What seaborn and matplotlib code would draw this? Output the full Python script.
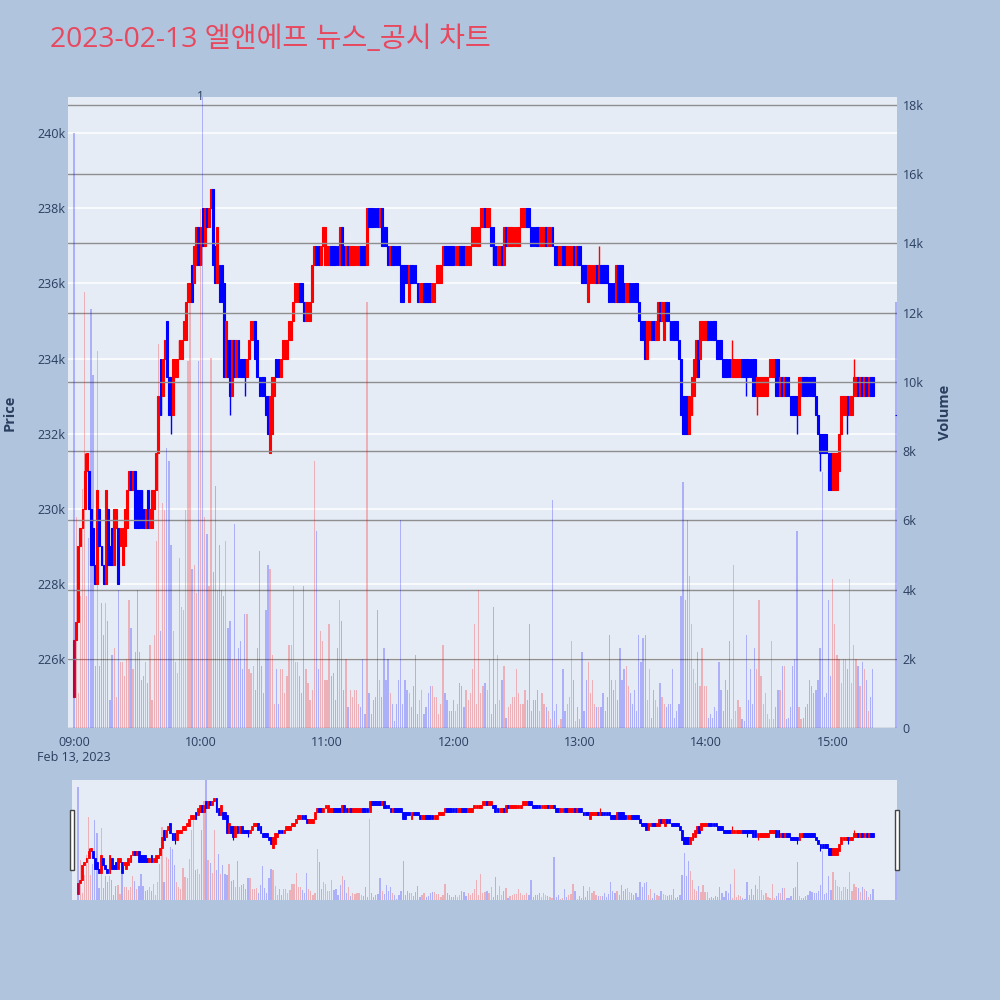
import numpy as np
import pandas as pd
import matplotlib
matplotlib.use("Agg")
import matplotlib.pyplot as plt
import matplotlib.transforms as mtransforms
from matplotlib.patches import Rectangle
from matplotlib.ticker import FuncFormatter, FixedLocator
import seaborn as sns

# ---------------- data (prices in thousand KRW, volume in thousand shares) ----------------
title = "2023-02-13 엘앤에프 뉴스_공시 차트"
hour_labels = ["09:00\nFeb 13, 2023", "10:00", "11:00", "12:00", "13:00", "14:00", "15:00"]

open_09 = [225.0, 226.5, 227.0, 229.0, 229.5, 230.0, 231.0, 231.0, 230.0, 229.5,
           228.5, 228.0, 230.0, 229.0, 228.5, 228.0, 230.0, 229.0, 229.5, 228.5,
           229.5, 229.5, 229.0, 228.5, 229.0, 229.5, 230.5, 231.0, 230.5, 231.0,
           230.5, 230.5, 230.5, 230.0, 229.5, 230.5, 229.5, 229.5, 230.0, 230.5,
           231.5, 234.0, 233.0, 234.0, 235.0, 233.5, 233.5, 232.5, 233.5, 233.5,
           234.0, 234.0, 234.5, 234.5, 235.5, 235.5, 236.5, 236.0, 236.5, 237.5]
close_09 = [226.5, 227.0, 229.0, 229.5, 230.0, 231.0, 231.5, 230.0, 228.5, 228.5,
            228.0, 230.5, 229.0, 228.5, 228.0, 230.5, 228.5, 228.5, 228.5, 230.0,
            230.0, 228.0, 229.5, 229.5, 230.0, 230.5, 231.0, 230.5, 231.0, 229.5,
            229.5, 229.5, 229.5, 229.5, 230.0, 229.5, 230.0, 230.5, 230.5, 231.5,
            233.0, 232.5, 234.0, 234.5, 233.5, 232.5, 232.5, 234.0, 234.0, 234.0,
            234.5, 234.5, 235.0, 235.5, 236.0, 236.0, 235.5, 237.0, 237.5, 236.5]

open_10 = [236.5, 238.0, 237.0, 238.0, 237.5, 238.0, 238.5, 237.0, 236.0, 236.5,
           236.5, 236.0, 233.5, 234.5, 234.5, 233.0, 234.5, 233.5, 234.5, 234.0,
           234.0, 234.0, 233.5, 234.0, 234.5, 234.5, 235.0, 234.5, 233.5, 233.5,
           233.5, 233.0, 233.0, 231.5, 232.0, 233.0, 234.0, 234.0, 233.5, 234.0,
           234.0, 234.0, 234.5, 234.5, 235.0, 235.5, 235.5, 236.0, 236.0, 235.5,
           235.0, 235.0, 235.0, 235.5, 236.5, 237.0, 237.0, 236.5, 237.0, 236.5]
close_10 = [237.5, 237.0, 238.0, 237.5, 238.0, 238.5, 236.5, 236.0, 237.5, 235.5,
            235.5, 233.5, 235.0, 233.5, 233.0, 234.5, 233.5, 234.5, 233.5, 233.5,
            233.5, 233.5, 234.0, 234.5, 235.0, 235.0, 234.0, 233.5, 233.0, 233.0,
            233.0, 232.5, 232.0, 233.0, 233.5, 233.5, 233.5, 233.5, 234.0, 234.5,
            234.5, 234.5, 235.0, 235.0, 235.5, 236.0, 236.0, 235.5, 235.5, 235.0,
            235.5, 235.5, 235.5, 236.5, 237.0, 236.5, 236.5, 237.0, 237.5, 237.5]

open_11 = [236.5, 236.5, 237.0, 237.0, 237.0, 237.0, 236.5, 237.5, 237.0, 236.5,
           237.0, 236.5, 236.5, 236.5, 236.5, 236.5, 237.0, 237.0, 237.0, 236.5,
           238.0, 238.0, 238.0, 238.0, 238.0, 237.5, 238.0, 237.5, 237.5, 237.0,
           236.5, 237.0, 237.0, 237.0, 237.0, 236.5, 236.5, 236.5, 236.5, 235.5,
           236.5, 236.5, 236.5, 236.0, 235.5, 235.5, 236.0, 236.0, 236.0, 236.0,
           235.5, 235.5, 236.0, 236.0, 236.0, 236.5, 237.0, 237.0, 237.0, 237.0]
close_11 = [237.0, 237.0, 236.5, 236.5, 236.5, 236.5, 237.5, 236.5, 236.5, 237.0,
            236.5, 237.0, 237.0, 237.0, 237.0, 237.0, 236.5, 236.5, 236.5, 238.0,
            237.5, 237.5, 237.5, 237.5, 237.5, 238.0, 237.0, 237.0, 237.0, 236.5,
            237.0, 236.5, 236.5, 236.5, 236.5, 235.5, 235.5, 236.0, 236.0, 236.5,
            236.0, 236.0, 236.0, 235.5, 236.0, 236.0, 235.5, 235.5, 235.5, 235.5,
            236.0, 236.0, 236.5, 236.5, 236.5, 237.0, 236.5, 236.5, 236.5, 236.5]

open_12 = [237.0, 236.5, 236.5, 237.0, 237.0, 237.0, 236.5, 236.5, 236.5, 237.0,
           237.0, 237.0, 237.0, 237.5, 237.5, 238.0, 237.5, 237.5, 237.5, 237.5,
           237.0, 236.5, 236.5, 237.0, 236.5, 237.5, 237.0, 237.0, 237.0, 237.0,
           237.0, 237.0, 237.5, 237.5, 237.5, 238.0, 238.0, 237.5, 237.5, 237.5,
           237.5, 237.0, 237.0, 237.0, 237.5, 237.0, 237.0, 237.5, 237.0, 237.0,
           236.5, 236.5, 237.0, 237.0, 236.5, 236.5, 236.5, 237.0, 236.5, 237.0]
close_12 = [236.5, 237.0, 237.0, 236.5, 236.5, 236.5, 237.0, 237.0, 237.0, 237.5,
            237.5, 237.5, 237.5, 238.0, 238.0, 237.5, 238.0, 238.0, 237.0, 236.5,
            236.5, 237.0, 237.0, 236.5, 237.5, 237.0, 237.5, 237.5, 237.5, 237.5,
            237.5, 237.5, 238.0, 238.0, 238.0, 237.5, 237.5, 237.0, 237.0, 237.0,
            237.0, 237.5, 237.5, 237.5, 237.0, 237.5, 237.5, 237.0, 236.5, 236.5,
            237.0, 237.0, 236.5, 236.5, 237.0, 237.0, 237.0, 236.5, 237.0, 236.5]

open_13 = [237.0, 236.5, 236.5, 236.5, 235.5, 236.0, 236.0, 236.0, 236.5, 236.0,
           236.5, 236.5, 236.5, 236.5, 236.0, 236.0, 236.0, 235.5, 236.5, 236.5,
           236.5, 236.0, 235.5, 235.5, 236.0, 236.0, 236.0, 236.0, 235.5, 235.0,
           235.0, 235.0, 234.0, 234.5, 235.0, 235.0, 234.5, 234.5, 235.5, 235.0,
           234.5, 235.5, 235.5, 235.0, 235.0, 235.0, 235.0, 234.5, 234.0, 233.0,
           233.0, 233.0, 232.0, 232.5, 233.0, 233.5, 234.5, 234.0, 234.5, 234.5]
close_13 = [236.5, 236.0, 236.0, 236.0, 236.5, 236.5, 236.5, 236.5, 236.0, 236.5,
            236.0, 236.0, 236.0, 236.0, 235.5, 235.5, 235.5, 236.5, 235.5, 235.5,
            235.5, 235.5, 236.0, 236.0, 235.5, 235.5, 235.5, 235.5, 235.0, 234.5,
            234.5, 234.0, 235.0, 235.0, 234.5, 234.5, 235.0, 235.5, 235.0, 235.5,
            235.5, 235.0, 235.0, 234.5, 234.5, 234.5, 234.5, 234.0, 232.5, 232.0,
            232.0, 232.0, 233.0, 233.5, 234.0, 234.5, 233.5, 235.0, 235.0, 235.0]

open_14 = [234.5, 235.0, 235.0, 235.0, 235.0, 234.5, 234.5, 234.5, 234.0, 234.0,
           234.0, 234.0, 233.5, 233.5, 233.5, 233.5, 233.5, 234.0, 234.0, 234.0,
           234.0, 234.0, 234.0, 234.0, 233.0, 233.0, 233.0, 233.0, 233.0, 233.0,
           233.5, 233.5, 233.5, 234.0, 234.0, 233.0, 233.5, 233.0, 233.5, 233.5,
           233.0, 233.0, 233.0, 233.0, 232.5, 233.0, 233.5, 233.5, 233.5, 233.5,
           233.5, 233.5, 233.0, 232.5, 232.0, 232.0, 232.0, 232.0, 231.5, 231.5]
close_14 = [235.0, 234.5, 234.5, 234.5, 234.5, 234.0, 234.0, 234.0, 233.5, 233.5,
            233.5, 233.5, 234.0, 234.0, 234.0, 234.0, 234.0, 233.5, 233.5, 233.5,
            233.5, 233.5, 233.0, 233.0, 233.5, 233.5, 233.5, 233.5, 233.5, 233.5,
            234.0, 234.0, 234.0, 233.0, 233.0, 233.5, 233.0, 233.5, 233.0, 233.0,
            232.5, 232.5, 232.5, 232.5, 233.5, 233.5, 233.0, 233.0, 233.0, 233.0,
            233.0, 233.0, 232.5, 232.0, 231.5, 231.5, 231.5, 231.5, 230.5, 230.5]

# 15:00-15:19 continuous trading, then the 15:30 closing auction
open_15 = [230.5, 230.5, 230.5, 231.0, 232.0, 232.5, 232.5, 233.0, 232.5, 232.5,
           233.0, 233.0, 233.5, 233.0, 233.5, 233.0, 233.5, 233.0, 233.5, 233.5, 232.5]
close_15 = [231.5, 231.5, 231.5, 232.0, 233.0, 233.0, 233.0, 232.5, 233.0, 233.0,
            233.5, 233.5, 233.0, 233.5, 233.0, 233.5, 233.0, 233.5, 233.0, 233.0, 232.5]

# extra wicks (minute index since 09:00 -> price)
wick_high_min = [5, 249, 312, 370]
wick_high_val = [231.5, 237.0, 234.5, 234.0]
wick_low_min = [46, 74, 81, 319, 324, 343, 354, 367]
wick_low_val = [232.0, 232.5, 233.0, 233.0, 232.5, 232.0, 231.0, 232.0]

vol_09 = [17.2, 6.1, 1.0, 3.8, 6.9, 12.6, 3.8, 5.5, 12.1, 10.2,
          1.8, 10.9, 1.8, 3.6, 2.7, 3.6, 3.1, 0.8, 2.1, 2.3,
          0.9, 4.0, 1.9, 1.9, 1.5, 2.0, 3.7, 2.9, 1.7, 2.2,
          4.0, 2.2, 1.4, 1.5, 1.9, 1.3, 2.4, 0.8, 2.7, 5.4,
          11.1, 2.8, 6.5, 6.3, 8.1, 7.7, 5.3, 2.8, 1.9, 1.6,
          4.9, 3.5, 3.4, 6.3, 10.6, 12.8, 4.6, 4.7, 3.9, 10.6]
vol_10 = [15.0, 18.5, 6.1, 5.6, 4.1, 10.7, 4.5, 7.0, 4.0, 5.3,
          4.0, 3.8, 5.4, 2.9, 3.1, 2.0, 5.9, 2.0, 2.3, 2.5,
          1.7, 3.3, 3.3, 1.7, 1.6, 1.8, 1.1, 2.3, 5.1, 1.8,
          1.0, 3.4, 4.7, 4.6, 2.1, 0.7, 1.7, 0.7, 1.7, 1.7,
          1.0, 1.5, 2.4, 2.4, 4.1, 1.9, 1.9, 1.5, 1.0, 4.1,
          1.7, 1.3, 0.8, 1.1, 7.7, 5.7, 1.7, 2.8, 2.5, 1.4]
vol_11 = [1.4, 3.0, 1.5, 1.6, 0.8, 2.3, 3.7, 3.1, 1.1, 2.0,
          0.6, 1.1, 0.9, 1.1, 1.1, 0.7, 0.6, 2.0, 0.4, 12.3,
          1.0, 0.4, 0.8, 0.9, 3.4, 1.4, 0.9, 2.3, 1.4, 2.0,
          1.0, 0.7, 0.2, 0.7, 1.4, 6.0, 0.7, 1.4, 1.1, 1.0,
          0.6, 1.2, 2.1, 0.4, 0.8, 1.1, 0.4, 0.6, 1.0, 1.2,
          1.2, 0.9, 0.9, 0.4, 0.7, 2.4, 1.0, 0.8, 0.5, 0.5]
vol_12 = [0.8, 0.5, 0.7, 1.3, 1.2, 0.6, 1.1, 0.8, 1.0, 1.7,
          3.0, 0.7, 4.0, 1.0, 1.2, 1.3, 1.1, 2.0, 0.4, 3.5,
          0.7, 2.1, 0.8, 1.4, 1.8, 0.3, 0.6, 0.7, 0.9, 0.9,
          1.7, 1.0, 0.7, 0.7, 1.1, 0.8, 3.0, 0.5, 0.8, 0.8,
          1.1, 0.5, 1.0, 0.7, 0.6, 0.5, 0.25, 6.6, 0.5, 0.7,
          0.1, 0.25, 1.7, 0.5, 0.7, 0.9, 2.5, 1.4, 0.2, 0.6]
vol_13 = [0.25, 2.2, 0.5, 1.4, 1.9, 1.0, 1.4, 0.7, 0.6, 0.6,
          0.6, 1.0, 0.5, 0.9, 2.7, 1.4, 1.1, 1.4, 0.8, 2.3,
          1.4, 1.7, 1.8, 1.2, 1.0, 0.7, 1.1, 0.5, 2.7, 1.9,
          2.6, 2.7, 0.8, 1.7, 0.3, 1.1, 0.8, 0.6, 1.3, 0.9,
          0.7, 0.6, 0.7, 0.7, 1.7, 0.3, 0.5, 0.7, 3.8, 7.1,
          3.7, 6.0, 4.4, 3.0, 1.7, 1.3, 2.2, 1.2, 2.3, 1.2]
vol_14 = [1.2, 0.3, 0.4, 0.3, 0.6, 0.5, 1.9, 1.1, 0.5, 1.4,
          1.1, 2.5, 0.25, 4.7, 0.5, 0.8, 0.6, 0.25, 0.2, 2.7,
          0.8, 1.7, 0.7, 2.3, 1.7, 3.7, 1.5, 0.7, 1.0, 0.4,
          0.25, 2.5, 0.25, 0.6, 1.1, 1.1, 1.8, 1.8, 0.25, 0.3,
          0.6, 1.8, 2.0, 5.7, 0.6, 0.25, 0.3, 0.6, 0.7, 1.4,
          1.2, 1.0, 1.1, 1.4, 2.3, 7.4, 0.9, 1.0, 3.7, 1.5]
vol_15 = [4.3, 3.0, 2.1, 2.0, 1.3, 2.0, 2.0, 1.7, 4.3, 1.3,
          2.4, 2.0, 1.8, 1.2, 1.9, 1.7, 1.4, 0.5, 0.9, 1.7, 12.3]

news_time = "10:00"
news_label = "1"

# ---------------- assemble ----------------
times = list(pd.date_range("2023-02-13 09:00", "2023-02-13 15:19", freq="min")) + [pd.Timestamp("2023-02-13 15:30")]
t0 = pd.Timestamp("2023-02-13 09:00")
x = np.array([(t - t0) / pd.Timedelta(minutes=1) for t in times])

o = np.array(open_09 + open_10 + open_11 + open_12 + open_13 + open_14 + open_15) * 1000
c = np.array(close_09 + close_10 + close_11 + close_12 + close_13 + close_14 + close_15) * 1000
v = np.array(vol_09 + vol_10 + vol_11 + vol_12 + vol_13 + vol_14 + vol_15) * 1000
hi = np.maximum(o, c)
lo = np.minimum(o, c)
for m, val in zip(wick_high_min, wick_high_val):
    hi[m] = max(hi[m], val * 1000)
for m, val in zip(wick_low_min, wick_low_val):
    lo[m] = min(lo[m], val * 1000)
up = c > o
col = np.where(up, "red", "blue")
direction = np.where(up, "up", "down")
# the opening print has no previous bar; its volume bar is shown in blue
vol_dir = direction.copy()
vol_dir[0] = "down"

df = pd.DataFrame({"minute": x, "volume": v, "dir": vol_dir})

# ---------------- style ----------------
sns.set_theme(style="white")
plt.rcParams["font.family"] = ["Open Sans", "Noto Sans CJK KR", "DejaVu Sans"]
TXT = "#2a3f5f"
BG = "#B0C4DE"
PLOT_BG = "#E5ECF6"
GRID2 = "#8f8f8f"
P_LIM = (224170, 240960)
V_LIM = (0, 18230)
X_LIM = (-2.9, 390.5)
HOUR_TICKS = [0, 60, 120, 180, 240, 300, 360]

fig = plt.figure(figsize=(10, 10), dpi=100, facecolor=BG)

# ---------- main chart ----------
ax = fig.add_axes([0.068, 0.272, 0.829, 0.631])
ax.set_facecolor(PLOT_BG)
ax.set_axisbelow(True)
ax.vlines(x, lo, hi, colors=col, lw=1.0, zorder=3)
ax.bar(x, np.abs(c - o), bottom=np.minimum(o, c), width=0.9, color=col,
       edgecolor=col, linewidth=0.8, zorder=3)
ax.set_ylim(*P_LIM)
ax.yaxis.set_major_locator(FixedLocator(list(range(226000, 240001, 2000))))
ax.yaxis.set_major_formatter(FuncFormatter(lambda val, pos: f"{int(round(val / 1000))}k"))
ax.grid(axis="y", color="white", lw=1.1)
ax.grid(axis="x", visible=False)
for s in ax.spines.values():
    s.set_visible(False)

ax2 = ax.twinx()
sns.barplot(data=df, x="minute", y="volume", hue="dir",
            palette={"up": "red", "down": "blue"}, native_scale=True,
            width=0.6, alpha=0.25, saturation=1, errorbar=None, legend=False,
            dodge=False, linewidth=0, ax=ax2)
ax2.set_ylim(*V_LIM)
ax2.yaxis.set_major_locator(FixedLocator(list(range(0, 18001, 2000))))
ax2.yaxis.set_major_formatter(FuncFormatter(lambda val, pos: "0" if val == 0 else f"{int(val / 1000)}k"))
ax2.grid(axis="y", color=GRID2, lw=1.0)
ax2.grid(axis="x", visible=False)
for s in ax2.spines.values():
    s.set_visible(False)
ax2.set_xlabel("")

for a in (ax, ax2):
    a.set_xlim(*X_LIM)
    a.xaxis.set_major_locator(FixedLocator(HOUR_TICKS))
    a.set_xticklabels(hour_labels)

ax.tick_params(axis="x", length=0, pad=6, labelsize=9, labelcolor=TXT)
ax2.tick_params(axis="x", length=0, labelbottom=False)
ax.tick_params(axis="y", length=0, pad=1.5, labelsize=9, labelcolor=TXT)
ax2.tick_params(axis="y", length=0, pad=4, labelsize=9, labelcolor=TXT)
for lab in ax.get_xticklabels():
    lab.set_multialignment("center")

ax.set_ylabel("Price", fontsize=10.5, fontweight="bold", color=TXT)
ax.yaxis.set_label_coords(-0.062, 0.5)
ax2.set_ylabel("Volume", fontsize=10.5, fontweight="bold", color=TXT)
ax2.yaxis.set_label_coords(1.05, 0.5)

news_x = (pd.Timestamp("2023-02-13 " + news_time) - t0) / pd.Timedelta(minutes=1)
trans = mtransforms.blended_transform_factory(ax2.transData, ax2.transAxes)
ax2.text(news_x, 1.0, news_label, transform=trans, ha="center", va="center",
         fontsize=8.5, color=TXT, zorder=10)

fig.text(0.05, 0.96, title, color="#E8485E", fontsize=20.3, ha="left", va="center")

# ---------- range slider ----------
rs = fig.add_axes([0.072, 0.100, 0.825, 0.120])
rs.set_facecolor(PLOT_BG)
rs.vlines(x, lo, hi, colors=col, lw=0.8, zorder=3)
rs.bar(x, np.abs(c - o), bottom=np.minimum(o, c), width=0.9, color=col,
       edgecolor=col, linewidth=0.6, zorder=3)
rs.set_ylim(*P_LIM)
rs2 = rs.twinx()
sns.barplot(data=df, x="minute", y="volume", hue="dir",
            palette={"up": "red", "down": "blue"}, native_scale=True,
            width=0.6, alpha=0.25, saturation=1, errorbar=None, legend=False,
            dodge=False, linewidth=0, ax=rs2)
rs2.set_ylim(*V_LIM)
for a in (rs, rs2):
    a.set_xlim(*X_LIM)
    a.set_xticks([])
    a.set_yticks([])
    a.set_xlabel("")
    a.set_ylabel("")
    a.grid(False)
    for s in a.spines.values():
        s.set_visible(False)

for hx in (0.0695, 0.8945):
    fig.patches.append(Rectangle((hx, 0.130), 0.004, 0.060, transform=fig.transFigure,
                                 facecolor="white", edgecolor="#444444", lw=1.0, zorder=20))

fig.savefig("out.png", dpi=100, facecolor=BG)
